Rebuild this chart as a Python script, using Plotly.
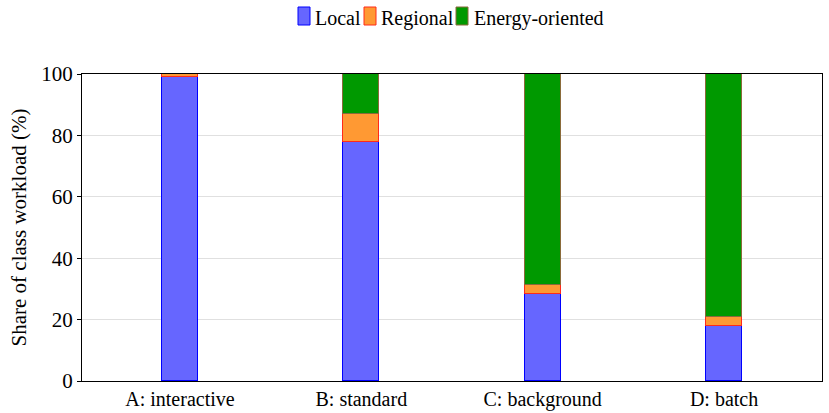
import plotly.graph_objects as go

categories = ["A: interactive", "B: standard", "C: background", "D: batch"]
local = [99.0, 78.0, 28.5, 18.0]
regional = [1.0, 9.0, 2.8, 3.0]
energy = [None, 13.0, 68.7, 79.0]

series = [
    ("Local", local, "#6666ff", "#0000ff"),
    ("Regional", regional, "#ff9933", "#ff2a1a"),
    ("Energy-oriented", energy, "#009900", "#8a6a3a"),
]

W, H = 829, 413
ML, MR, MT, MB = 82, 7, 74, 32
PW, PH = W - ML - MR, H - MT - MB

def px_x(px):
    return (px - ML) / PW

def px_y(py):
    return (H - MB - py) / PH

fig = go.Figure()
for name, vals, fill, edge in series:
    fig.add_trace(go.Bar(
        name=name, x=categories, y=vals, width=0.2, showlegend=False,
        marker=dict(color=fill, line=dict(color=edge, width=1)),
    ))

# custom legend (boxes + labels) above the plot
legend_items = [(298, 314), (364, 380), (456, 473)]
for (bx, tx), (name, _, fill, edge) in zip(legend_items, series):
    fig.add_shape(type="rect", xref="paper", yref="paper",
                  x0=px_x(bx), x1=px_x(bx + 12), y0=px_y(25), y1=px_y(7),
                  fillcolor=fill, line=dict(color=edge, width=1))
    fig.add_annotation(text=name, xref="paper", yref="paper", x=px_x(tx), y=px_y(18.5),
                       xanchor="left", yanchor="middle", showarrow=False,
                       font=dict(size=20), xshift=-1)

font_family = "Liberation Serif, Times New Roman, serif"
fig.update_layout(
    barmode="stack",
    width=W, height=H,
    margin=dict(l=ML, r=MR, t=MT, b=MB),
    plot_bgcolor="white", paper_bgcolor="white",
    font=dict(family=font_family, size=20, color="black"),
    showlegend=False,
    xaxis=dict(range=[-0.54, 3.54], showline=True, linecolor="black", linewidth=1,
               mirror=True, ticks="", showgrid=False, tickfont=dict(size=20),
               automargin=False),
    yaxis=dict(range=[0, 100], dtick=20, showline=True, linecolor="black", linewidth=1,
               mirror=True, ticks="outside", ticklen=4, tickcolor="black",
               showgrid=True, gridcolor="#e0e0e0", gridwidth=1, zeroline=False,
               title=dict(text="Share of class workload (%)", font=dict(size=21), standoff=8),
               tickfont=dict(size=21), automargin=False),
    bargap=0,
)

fig.write_html("out.html")
